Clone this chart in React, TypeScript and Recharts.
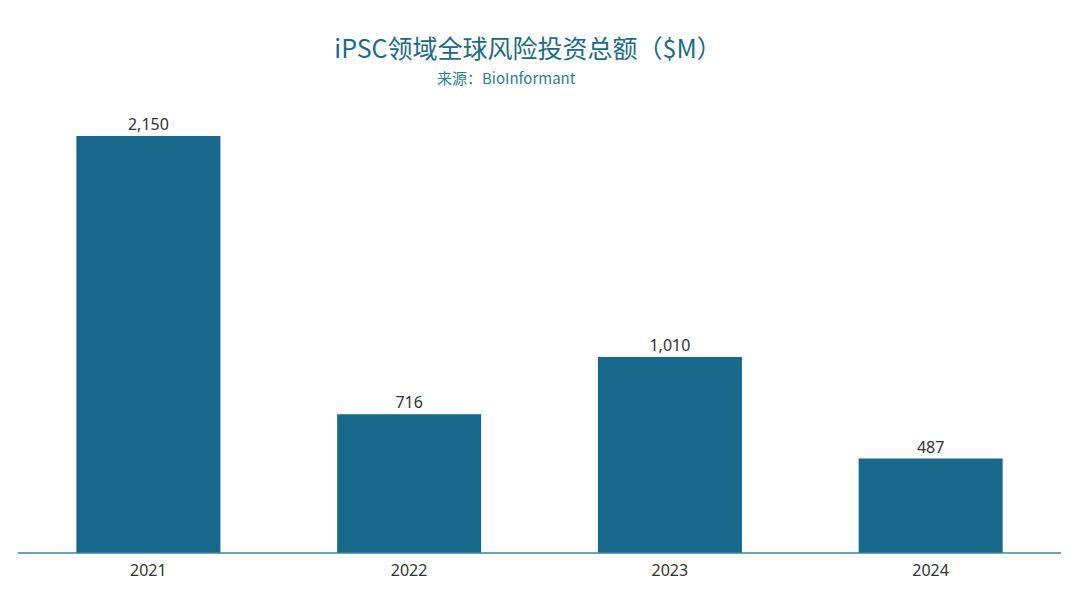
import { BarChart, Bar, XAxis, YAxis, LabelList } from 'recharts';

const years = ['2021', '2022', '2023', '2024'];
const funding = [2150, 716, 1010, 487];

const BAR = '#17688a';
const TITLE = '#1d6a88';

export default function App() {
  const data = years.map((y, i) => ({ year: y, value: funding[i] }));

  return (
    <div style={{ position: 'fixed', left: 0, top: 0, width: 1080, height: 602, background: '#fff',
      fontFamily: '"Noto Sans CJK SC", "Noto Sans", sans-serif' }}>
      <div style={{ position: 'absolute', left: 0, width: 1056, top: 30, textAlign: 'center',
        fontSize: 25, color: TITLE, lineHeight: '34px' }}>
        iPSC领域全球风险投资总额（$M）
      </div>
      <div style={{ position: 'absolute', left: 437, top: 68, fontSize: 15, color: '#2a7f96',
        lineHeight: '20px' }}>
        来源：BioInformant
      </div>
      <BarChart width={1080} height={602} data={data}
        margin={{ top: 136, right: 19, bottom: 0, left: 18 }} barCategoryGap="22.4%">
        <YAxis hide domain={[0, 2150]} />
        <XAxis dataKey="year" height={49} tickLine={false}
          axisLine={{ stroke: '#3d84a0', strokeWidth: 1.5 }}
          tick={{ fill: '#333', fontSize: 16, fontFamily: '"Noto Sans", sans-serif' }} tickMargin={6} />
        <Bar dataKey="value" fill={BAR} isAnimationActive={false}>
          <LabelList dataKey="value" position="top" offset={6}
            formatter={(v: number) => v.toLocaleString('en-US')}
            style={{ fill: '#333', fontSize: 16, fontFamily: '"Noto Sans", sans-serif' }} />
        </Bar>
      </BarChart>
    </div>
  );
}
